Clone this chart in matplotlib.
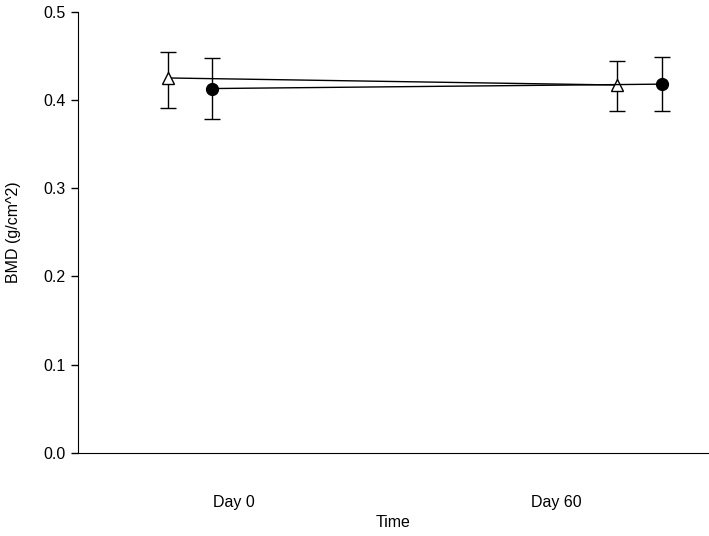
import matplotlib
matplotlib.use("Agg")
import matplotlib.pyplot as plt
import numpy as np

plt.rcParams['font.family'] = ['Liberation Sans', 'DejaVu Sans']

# data
days = ["Day 0", "Day 60"]
tri_x = [0.795, 2.19]
tri_y = [0.425, 0.417]
tri_lo = [0.391, 0.388]
tri_hi = [0.454, 0.444]

circ_x = [0.932, 2.329]
circ_y = [0.413, 0.418]
circ_lo = [0.378, 0.388]
circ_hi = [0.448, 0.449]

fig = plt.figure(figsize=(7.09, 5.36), dpi=100)
ax = fig.add_axes([0.110, 0.155, 0.89, 0.823])

tri_err = [np.array(tri_y) - np.array(tri_lo), np.array(tri_hi) - np.array(tri_y)]
circ_err = [np.array(circ_y) - np.array(circ_lo), np.array(circ_hi) - np.array(circ_y)]

ax.errorbar(tri_x, tri_y, yerr=tri_err, color='black', lw=1, capsize=5.5,
            marker='^', ms=8, mfc='white', mec='black', mew=1, elinewidth=1, capthick=1)
ax.errorbar(circ_x, circ_y, yerr=circ_err, color='black', lw=1, capsize=5.5,
            marker='o', ms=8.5, mfc='black', mec='black', elinewidth=1, capthick=1)

ax.set_xlim(0.516, 2.475)
ax.set_ylim(0, 0.5)
ax.set_yticks(np.arange(0, 0.51, 0.1))
ax.set_yticklabels([f"{v:.1f}" for v in np.arange(0, 0.51, 0.1)])
ax.set_xticks([1, 2])
ax.set_xticklabels(days)
ax.tick_params(axis='x', length=0, pad=30, labelsize=11.5)
ax.tick_params(axis='y', length=5, width=1, direction='out', labelsize=11.5, pad=4)
ax.spines['top'].set_visible(False)
ax.spines['right'].set_visible(False)
ax.set_xlabel("Time", fontsize=11.5, labelpad=4)
ax.set_ylabel("BMD (g/cm^2)", fontsize=11.5, labelpad=16)

fig.savefig("out.png", dpi=100)
